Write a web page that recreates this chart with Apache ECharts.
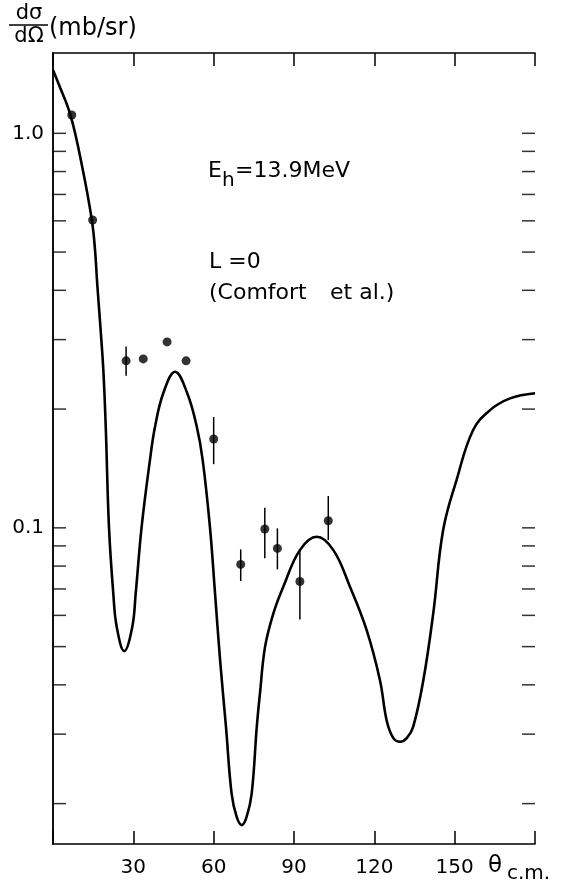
<!DOCTYPE html>
<html>
<head>
<meta charset="utf-8">
<script src="https://cdn.jsdelivr.net/npm/echarts@6/dist/echarts.min.js"></script>
<style>
  html, body { margin: 0; padding: 0; background: #fff; }
  #chart { width: 562px; height: 882px; }
</style>
</head>
<body>
<div id="chart"></div>
<script>
// theory curve (L=0, Comfort et al.)
const curveAngle = [0, 2.0, 6.5, 10.9, 14.5, 15.7, 16.5, 17.7, 18.8, 19.7, 20.9, 22.5, 23.8, 26.6, 29.6, 30.9, 33.1, 36.2, 38.1, 41.2, 45.6, 50.1, 53.7, 55.9, 58.6, 60.5, 62.4, 64.6, 66.7, 68.6, 70.5, 72.3, 74.2, 76.1, 77.3, 79.2, 82.3, 86.0, 92.2, 98.5, 104.7, 110.9, 117.1, 122.1, 124.6, 127.1, 129.6, 132.1, 134.5, 138.3, 142.0, 145.7, 150.7, 156.9, 163.2, 170.7, 180];
const curveSigma = [1.447, 1.339, 1.113, 0.823, 0.603, 0.506, 0.417, 0.3235, 0.251, 0.180, 0.1006, 0.0684, 0.0561, 0.0487, 0.0561, 0.0684, 0.1006, 0.1485, 0.1804, 0.2197, 0.2487, 0.2197, 0.1804, 0.1485, 0.1006, 0.0684, 0.0462, 0.0313, 0.0212, 0.0185, 0.01764, 0.0185, 0.0212, 0.0313, 0.0381, 0.0500, 0.0607, 0.0709, 0.0878, 0.0949, 0.0878, 0.0709, 0.0551, 0.0411, 0.0325, 0.0293, 0.0287, 0.0293, 0.0313, 0.0411, 0.0607, 0.0987, 0.1322, 0.177, 0.1988, 0.2129, 0.2193];

// measured points
const dataAngle = [7.0, 14.8, 27.3, 33.7, 42.6, 49.7, 60.0, 70.1, 79.1, 83.8, 92.2, 102.8];
const dataSigma = [1.113, 0.603, 0.265, 0.268, 0.296, 0.265, 0.168, 0.0808, 0.0993, 0.0887, 0.0731, 0.1042];
const errLow = [null, null, 0.243, null, null, null, 0.145, 0.0733, 0.0837, 0.0785, 0.0586, 0.0931];
const errHigh = [null, null, 0.288, null, null, null, 0.191, 0.0882, 0.1124, 0.0997, 0.0878, 0.1204];

// axes
const xTickLabels = [30, 60, 90, 120, 150];
const yMajorLabels = ['0.1', '1.0'];
const yTicks = [0.02, 0.03, 0.04, 0.05, 0.06, 0.07, 0.08, 0.09, 0.1, 0.2, 0.3, 0.4, 0.5, 0.6, 0.7, 0.8, 0.9, 1.0];
const yMin = 0.0158, yMax = 1.598;

const ink = '#000';
const font = 'DejaVu Sans';
const chart = echarts.init(document.getElementById('chart'));

const xBase = {
  type: 'value', min: 0, max: 180, interval: 30,
  axisLine: { lineStyle: { color: ink, width: 1.5 } },
  axisTick: { inside: true, length: 13, lineStyle: { color: ink, width: 1.5 } },
  splitLine: { show: false }
};
const yBase = {
  type: 'log', min: yMin, max: yMax,
  axisLine: { lineStyle: { color: ink, width: 1.5 } },
  axisTick: { show: false },
  splitLine: { show: false }
};

const tickSymbol = { symbol: 'rect', symbolSize: [13, 1.5], itemStyle: { color: ink }, silent: true, clip: false, z: 3 };

chart.setOption({
  animation: false,
  backgroundColor: '#fff',
  grid: { left: 53, right: 27, top: 53, bottom: 38 },
  xAxis: [
    Object.assign({}, xBase, {
      position: 'bottom',
      axisLabel: {
        color: ink, fontSize: 20, fontFamily: font, margin: 14,
        formatter: v => xTickLabels.includes(v) ? String(v) : ''
      }
    }),
    Object.assign({}, xBase, { position: 'top', axisLabel: { show: false } })
  ],
  yAxis: [
    Object.assign({}, yBase, {
      position: 'left',
      axisLabel: {
        color: ink, fontSize: 20, fontFamily: font, margin: 9,
        showMinLabel: false, showMaxLabel: false,
        formatter: v => Math.abs(v - 1) < 1e-6 ? yMajorLabels[1] : Math.abs(v - 0.1) < 1e-6 ? yMajorLabels[0] : ''
      }
    }),
    Object.assign({}, yBase, { position: 'right', axisLabel: { show: false } })
  ],
  series: [
    {
      type: 'line',
      data: curveAngle.map((a, i) => [a, curveSigma[i]]),
      smooth: 0.4,
      showSymbol: false,
      lineStyle: { color: ink, width: 2.6 },
      z: 2
    },
    {
      type: 'custom',
      data: dataAngle.map((a, i) => [a, errLow[i], errHigh[i]]).filter(d => d[1] != null),
      encode: { x: 0, y: [1, 2] },
      renderItem: (params, api) => {
        const hi = api.coord([api.value(0), api.value(2)]);
        const lo = api.coord([api.value(0), api.value(1)]);
        return {
          type: 'line',
          shape: { x1: hi[0], y1: hi[1], x2: lo[0], y2: lo[1] },
          style: { stroke: ink, lineWidth: 1.5 }
        };
      },
      z: 3
    },
    {
      type: 'scatter',
      data: dataAngle.map((a, i) => [a, dataSigma[i]]),
      symbol: 'circle',
      symbolSize: 9,
      itemStyle: { color: ink },
      z: 4
    },
    Object.assign({ type: 'scatter', data: yTicks.map(v => [0, v]), symbolOffset: [6.5, 0] }, tickSymbol),
    Object.assign({ type: 'scatter', data: yTicks.map(v => [180, v]), symbolOffset: [-6.5, 0] }, tickSymbol)
  ],
  graphic: [
    // y-axis title: dσ/dΩ (mb/sr)
    { type: 'text', x: 29, y: 14, style: { text: 'dσ', font: '21px ' + font, fill: ink, align: 'center', verticalAlign: 'middle' } },
    { type: 'line', shape: { x1: 9, y1: 25, x2: 48, y2: 25 }, style: { stroke: ink, lineWidth: 1.6 } },
    { type: 'text', x: 29, y: 37, style: { text: 'dΩ', font: '21px ' + font, fill: ink, align: 'center', verticalAlign: 'middle' } },
    { type: 'text', x: 49, y: 29, style: { text: '(mb/sr)', font: '24px ' + font, fill: ink, align: 'left', verticalAlign: 'middle' } },
    // x-axis title: θc.m.
    { type: 'text', x: 488, y: 866, style: { text: 'θ', font: '23px ' + font, fill: ink, align: 'left', verticalAlign: 'middle' } },
    { type: 'text', x: 507, y: 874, style: { text: 'c.m.', font: '20px ' + font, fill: ink, align: 'left', verticalAlign: 'middle' } },
    // annotations
    { type: 'text', x: 208, y: 171, style: { text: 'E', font: '22px ' + font, fill: ink, align: 'left', verticalAlign: 'middle' } },
    { type: 'text', x: 222, y: 181, style: { text: 'h', font: '20px ' + font, fill: ink, align: 'left', verticalAlign: 'middle' } },
    { type: 'text', x: 235, y: 171, style: { text: '=13.9MeV', font: '22px ' + font, fill: ink, align: 'left', verticalAlign: 'middle' } },
    { type: 'text', x: 209, y: 262, style: { text: 'L =0', font: '22px ' + font, fill: ink, align: 'left', verticalAlign: 'middle' } },
    { type: 'text', x: 209, y: 293, style: { text: '(Comfort', font: '22px ' + font, fill: ink, align: 'left', verticalAlign: 'middle' } },
    { type: 'text', x: 330, y: 293, style: { text: 'et al.)', font: '22px ' + font, fill: ink, align: 'left', verticalAlign: 'middle' } }
  ]
});
</script>
</body>
</html>
